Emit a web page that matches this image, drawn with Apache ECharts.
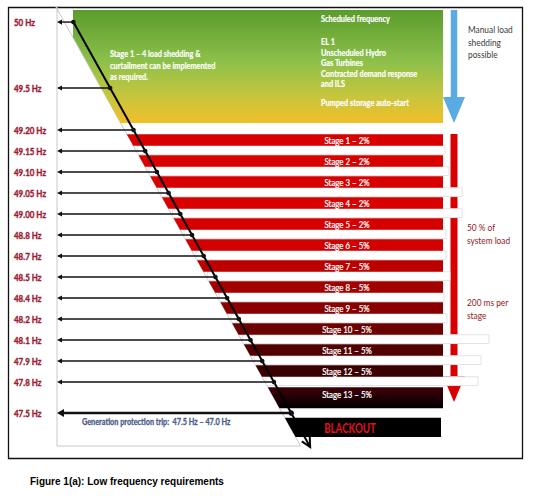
<!DOCTYPE html>
<html><head><meta charset="utf-8">
<script src="https://cdn.jsdelivr.net/npm/echarts/dist/echarts.min.js"></script>
<style>html,body{margin:0;padding:0;background:#fff}#c{width:535px;height:500px}</style>
</head><body><div id="c"></div>
<script>
// ---- data ----
const freqLabels = ['50 Hz','49.5 Hz','49.20 Hz','49.15 Hz','49.10 Hz','49.05 Hz','49.00 Hz','48.8 Hz','48.7 Hz','48.5 Hz','48.4 Hz','48.2 Hz','48.1 Hz','47.9 Hz','47.8 Hz','47.5 Hz'];
// vertical position of each frequency on the diagram's row scale
const freqRow = [-5.14,-2,0,1,2,3,4,5,6,7,8,9,10,11,12,13.48];
const stageNames = ['Stage 1','Stage 2','Stage 3','Stage 4','Stage 5','Stage 6','Stage 7','Stage 8','Stage 9','Stage 10','Stage 11','Stage 12','Stage 13'];
const stagePct = [2,2,2,2,2,5,5,5,5,5,5,5,5];
const scheduledItems = ['Scheduled frequency','EL 1','Unscheduled Hydro','Gas Turbines','Contracted demand response','and ILS','Pumped storage auto-start'];
const manualNote = ['Stage 1 \u2013 4 load shedding &','curtailment can be implemented','as required.'];

// ---- styles / layout ----
const stageColors = ['#d80000','#d80000','#d80000','#d80000','#d60000','#d20000','#bc0000','#a30000','#890000','#6d0000','#530000','#3b0000',
  {type:'linear',x:0,y:0,x2:0,y2:1,colorStops:[{offset:0,color:'#3e0008'},{offset:1,color:'#000000'}]}];
const shadowRight = [445,449,462,462,446,446,450,444,447,489,481,478];
const labelRed = '#a01c34';
const FONT = 'Lato, "Open Sans", sans-serif';

function edgeX(r){ return 124.5 + 11.7*r; }
function blackX(r){ return 133.5 + 11.7*r; }
// condensed text (Calibri-like): Lato squeezed horizontally
function T(text, x, y, st, sx){
  return {type:'text', x:x, y:y, scaleX: sx || 0.83, originX:0, originY:0,
    style: Object.assign({fontFamily:FONT, verticalAlign:'middle', align:'left'}, st, {text:text, x:0, y:0})};
}

const chart = echarts.init(document.getElementById('c'), null, {renderer:'svg'});

const shadowSeries = {
  type:'custom', silent:true, z:2,
  data: shadowRight.map((v,i)=>[i, v]),
  renderItem(params, api){
    const i = api.value(0), xr = api.value(1);
    const top = i + 0.75, bot = i + 1.17;
    const a = api.coord([edgeX(top)+4, top]), b = api.coord([xr, bot]);
    return {type:'rect', shape:{x:a[0], y:a[1], width:b[0]-a[0], height:b[1]-a[1]}, style:{fill:'#fff', stroke:'#e3e3e3', lineWidth:1}};
  }
};

const stageSeries = {
  type:'custom', silent:true, z:3,
  data: stageNames.map((n,i)=>[i, stagePct[i]]),
  renderItem(params, api){
    const i = api.value(0), pct = api.value(1);
    const last = i === stageNames.length-1;
    const top = last ? 12.25 : i + 0.2;
    const bot = last ? 13.25 : top + 0.55;
    const p1 = api.coord([edgeX(top), top]), p2 = api.coord([443, top]);
    const p3 = api.coord([443, bot]), p4 = api.coord([edgeX(bot), bot]);
    const ty = last ? p1[1] + 7 : (p1[1]+p3[1])/2;
    return {type:'group', children:[
      {type:'polygon', shape:{points:[p1,p2,p3,p4]}, style:{fill: stageColors[i]}},
      T(stageNames[i] + ' \u2013 ' + pct + '%', api.coord([347,0])[0], ty, {align:'center', fill:'#fff', fontSize:9.5, stroke:'#fff', lineWidth:0.25})
    ]};
  }
};

const blackoutSeries = {
  type:'custom', silent:true, z:3,
  data:[[13.7, 14.62]],
  renderItem(params, api){
    const top = api.value(0), bot = api.value(1);
    const p1 = api.coord([edgeX(top), top]), p2 = api.coord([441, top]);
    const p3 = api.coord([441, bot]), p4 = api.coord([edgeX(bot), bot]);
    return {type:'group', children:[
      {type:'polygon', shape:{points:[p1,p2,p3,p4]}, style:{fill:'#000'}},
      T('BLACKOUT', api.coord([350,0])[0], (p1[1]+p3[1])/2+1, {align:'center', fill:'#e8101c', fontSize:12.5, fontWeight:'bold'}, 0.78)
    ]};
  }
};

const freqSeries = {
  type:'custom', silent:true, z:5,
  data: freqRow.map((r,i)=>[i, r]),
  renderItem(params, api){
    const i = api.value(0), r = api.value(1);
    const last = i === freqRow.length-1;
    const pl = api.coord([57, r]), pb = api.coord([blackX(r), r]);
    const w = last ? 2.5 : 1.4, ah = last ? 4 : 2.6, al = last ? 7 : 5;
    return {type:'group', children:[
      {type:'line', shape:{x1:pl[0]+al-1, y1:pl[1], x2:pb[0], y2:pb[1]}, style:{stroke:'#111', lineWidth:w}},
      {type:'polygon', shape:{points:[[pl[0],pl[1]],[pl[0]+al,pl[1]-ah],[pl[0]+al,pl[1]+ah]]}, style:{fill:'#111'}},
      {type:'circle', shape:{cx:pb[0], cy:pb[1], r: last?2.8:2.3}, style:{fill:'#111'}},
      T(freqLabels[i], 14, pl[1], {fill:labelRed, fontSize:9.5, fontWeight:'bold', stroke:labelRed, lineWidth:0.4}, 0.84)
    ]};
  }
};

const diagSeries = {
  type:'custom', silent:true, z:4,
  data:[[freqRow[0], 15.1]],
  renderItem(params, api){
    const r0 = api.value(0), r1 = api.value(1);
    const a = api.coord([blackX(r0), r0]), b = api.coord([blackX(r1), r1]);
    const dx = b[0]-a[0], dy = b[1]-a[1], L = Math.hypot(dx,dy), ux = dx/L, uy = dy/L;
    const hl = 9, hw = 4.5;
    const h1 = [b[0]-ux*hl - uy*hw, b[1]-uy*hl + ux*hw], h2 = [b[0]-ux*hl + uy*hw, b[1]-uy*hl - ux*hw];
    return {type:'group', children:[
      {type:'line', shape:{x1:a[0],y1:a[1],x2:b[0],y2:b[1]}, style:{stroke:'#000', lineWidth:2}},
      {type:'polyline', shape:{points:[h1,b,h2]}, style:{stroke:'#000', lineWidth:2, fill:null}}
    ]};
  }
};

const outlineSeries = {
  type:'custom', silent:true, z:1,
  data:[[-5.86, 15.05]],
  renderItem(params, api){
    const r0 = api.value(0), r1 = api.value(1);
    const a = api.coord([57, r0]), b = api.coord([57, r1]), c = api.coord([edgeX(r1), r1]), d = api.coord([edgeX(r0), r0]);
    return {type:'polyline', shape:{points:[d,a,b,c,d]}, style:{stroke:'#c9c9c9', lineWidth:1, fill:null}};
  }
};

const greenSeries = {
  type:'custom', silent:true, z:2,
  data:[[-5.714, -4.43, -0.333]],
  renderItem(params, api){
    const rt = api.value(0), rk = api.value(1), rb = api.value(2);
    const pts = [api.coord([73, rt]), api.coord([443, rt]), api.coord([443, rb]), api.coord([edgeX(rb), rb]), api.coord([73, rk])];
    const children = [{type:'polygon', shape:{points:pts}, style:{fill:{type:'linear',x:0,y:0,x2:0,y2:1,colorStops:[
      {offset:0,color:'#5a9c2c'},{offset:0.45,color:'#8cc04a'},{offset:0.75,color:'#c4c63e'},{offset:1,color:'#f1bf2a'}]}}}];
    const ys = [19, 42, 52.5, 63, 73.5, 84, 103];
    scheduledItems.forEach((t,k)=>children.push(T(t, 321, ys[k], {fill:'#fff', fontSize:9, fontWeight:'bold', stroke:'#fff', lineWidth:0.2}, 0.82)));
    [54, 66, 77].forEach((y,k)=>children.push(T(manualNote[k], 110, y, {fill:'#fff', fontSize:9.2, fontWeight:'bold', stroke:'#fff', lineWidth:0.2}, 0.8)));
    return {type:'group', children};
  }
};

function vArrow(x, yTop, yHead, yTip, shaftW, headW, color){
  return {type:'polygon', shape:{points:[[x-shaftW/2,yTop],[x+shaftW/2,yTop],[x+shaftW/2,yHead],[x+headW/2,yHead],[x,yTip],[x-headW/2,yHead],[x-shaftW/2,yHead]]},
    style:{fill:color}};
}
function G(text, x, y, st, sx){ const t = T(text, x, y, st, sx); t.style.verticalAlign = 'top'; return t; }

chart.setOption({
  animation:false,
  grid:{left:0,right:0,top:4,bottom:13},
  xAxis:{type:'value', min:0, max:535, show:false},
  yAxis:{type:'value', min:-6, max:17, inverse:true, show:false},
  graphic:[
    {type:'rect', shape:{x:8.5,y:7.5,width:514,height:451}, style:{fill:null, stroke:'#111', lineWidth:1.3}},
    vArrow(454, 10, 97, 123, 6.5, 22, '#5aaae4'),
    vArrow(454, 134, 376, 402, 7, 22, '#d80000'),
    G('Manual load\nshedding\npossible', 468, 23, {fill:'#3a3a3a', fontSize:9.8, lineHeight:12.5}, 0.85),
    G('50 % of\nsystem load', 467, 221, {fill:'#8e1a22', fontSize:9.8, lineHeight:12.5}, 0.85),
    G('200 ms per\nstage', 467, 296, {fill:'#8e1a22', fontSize:9.8, lineHeight:12.5}, 0.85),
    T('Generation protection trip:  47.5 Hz \u2013 47.0 Hz', 82, 422, {fill:'#4b5b8c', fontSize:9, fontWeight:'bold', stroke:'#4b5b8c', lineWidth:0.3}, 0.81),
    {type:'text', style:{text:'Figure 1(a): Low frequency requirements', x:30, y:481, verticalAlign:'middle', fill:'#000', fontSize:10, fontWeight:'bold', fontFamily:'"Liberation Sans", Arial, sans-serif'}}
  ],
  series:[outlineSeries, shadowSeries, greenSeries, stageSeries, blackoutSeries, diagSeries, freqSeries]
});
</script></body></html>
